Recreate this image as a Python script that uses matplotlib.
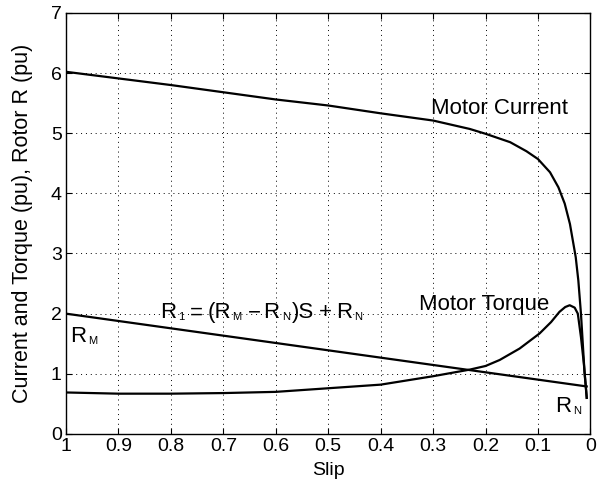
import numpy as np
import matplotlib
matplotlib.use("Agg")
import matplotlib.pyplot as plt
from matplotlib.transforms import offset_copy

plt.rcParams['font.family'] = ['Liberation Sans', 'DejaVu Sans']

# values
current_slip = [1.0, 0.9, 0.8, 0.7, 0.6, 0.5, 0.4, 0.3, 0.23, 0.2, 0.153, 0.122,
                0.1, 0.077, 0.061, 0.049, 0.039, 0.028, 0.023, 0.018, 0.011, 0.007]
current = [6.02, 5.91, 5.80, 5.68, 5.56, 5.46, 5.33, 5.21, 5.07, 4.99, 4.85, 4.70,
           4.57, 4.35, 4.10, 3.83, 3.49, 2.94, 2.55, 2.0, 1.0, 0.6]

torque_slip = [1.0, 0.9, 0.8, 0.7, 0.6, 0.5, 0.4, 0.3, 0.23, 0.2, 0.173, 0.135,
               0.097, 0.075, 0.059, 0.048, 0.0395, 0.03, 0.024, 0.018, 0.0125,
               0.0086, 0.007]
torque = [0.69, 0.67, 0.67, 0.68, 0.70, 0.76, 0.82, 0.96, 1.07, 1.13, 1.23, 1.42,
          1.67, 1.86, 2.03, 2.11, 2.14, 2.10, 2.0, 1.61, 1.17, 0.78, 0.6]

rotor_slip = [1.0, 0.007]
rotor_r = [2.0, 0.79]

fig = plt.figure(figsize=(6.0, 4.94), dpi=100)
ax = fig.add_axes([0.11, 0.1215, 0.874, 0.8525])

lw = 1.6
ax.plot(current_slip, current, color='black', lw=lw)
ax.plot(torque_slip, torque, color='black', lw=lw)
ax.plot(rotor_slip, rotor_r, color='black', lw=lw)

ax.set_xlim(1, 0)
ax.set_ylim(0, 7)
ax.set_xticks(np.arange(0, 1.01, 0.1))
ax.set_xticklabels(['0', '0.1', '0.2', '0.3', '0.4', '0.5', '0.6', '0.7', '0.8', '0.9', '1'])
ax.set_yticks(range(0, 8))
ax.grid(True, color='black', linestyle=(0, (1, 4)), linewidth=0.7)
ax.tick_params(direction='in', top=True, right=True, labelsize=14, length=4,
               pad=3)
for s in ax.spines.values():
    s.set_linewidth(1.0)

ax.set_xlabel('Slip', fontsize=14, labelpad=5)
ax.set_ylabel('Current and Torque (pu), Rotor R (pu)', fontsize=15.5, labelpad=13)

fs = 16
ax.text(0.304, 5.32, 'Motor Current', fontsize=fs, ha='left', va='baseline')
ax.text(0.326, 2.06, 'Motor Torque', fontsize=fs, ha='left', va='baseline')

renderer = fig.canvas.get_renderer()


def rich(x, y, parts):
    # text pieces drawn one after another: (text, is_subscript, gap after in px)
    xoff = 0.0
    for s, sub, gap in parts:
        size, dy = (8, -2) if sub else (fs, 0)
        tr = offset_copy(ax.transData, fig=fig, x=xoff, y=dy, units='dots')
        t = ax.text(x, y, s, fontsize=size, ha='left', va='baseline', transform=tr)
        xoff += t.get_window_extent(renderer).width + gap


rich(0.82, 1.92, [('R', False, 2), ('1', True, 5), ('=', False, 5), ('(R', False, 1),
                  ('M', True, 6), ('\u2212', False, 3), ('R', False, 2), ('N', True, 2),
                  (')S', False, 5), ('+', False, 4), ('R', False, 2), ('N', True, 0)])
rich(0.992, 1.53, [('R', False, 2), ('M', True, 0)])
rich(0.068, 0.37, [('R', False, 2), ('N', True, 0)])

fig.savefig('out.png', dpi=100)
